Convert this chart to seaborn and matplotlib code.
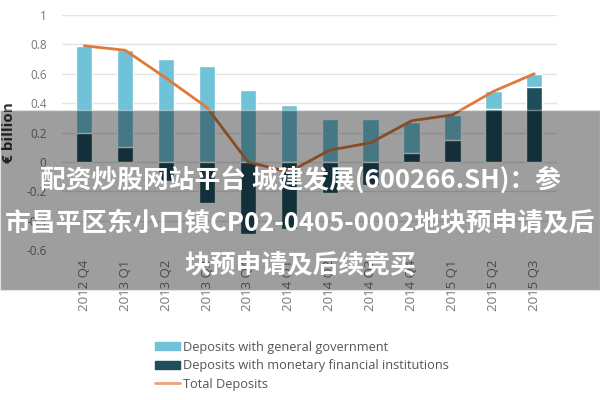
import numpy as np
import matplotlib
matplotlib.use("Agg")
import matplotlib.pyplot as plt
import seaborn as sns
from matplotlib.patches import Patch, Rectangle
from matplotlib.lines import Line2D

quarters = ["2012 Q4", "2013 Q1", "2013 Q2", "2013 Q3", "2013 Q4", "2014 Q1",
            "2014 Q2", "2014 Q3", "2014 Q4", "2015 Q1", "2015 Q2", "2015 Q3"]
gov = [0.59, 0.66, 0.70, 0.65, 0.49, 0.39, 0.29, 0.29, 0.21, 0.17, 0.12, 0.09]
mfi = [0.20, 0.10, -0.13, -0.28, -0.49, -0.46, -0.21, -0.16, 0.06, 0.15, 0.36, 0.51]
total = [0.79, 0.76, 0.57, 0.37, 0.00, -0.07, 0.08, 0.13, 0.28, 0.32, 0.48, 0.60]

overlay_lines = ["配资炒股网站平台 城建发展(600266.SH)：参",
                 "市昌平区东小口镇CP02-0405-0002地块预申请及后",
                 "块预申请及后续竞买"]

light = "#6fc2d8"
dark = "#1f4d5c"
orange = "#de7a3c"

sns.set_style("white")
plt.rcParams["font.family"] = ["Open Sans", "DejaVu Sans"]

fig = plt.figure(figsize=(6, 4), dpi=100)
ax = fig.add_axes([0.103, 0.375, 0.825, 0.5875])

# light bar sits on top of the positive dark part
light_top = [g + max(m, 0) for g, m in zip(gov, mfi)]
sns.barplot(x=quarters, y=light_top, color=light, saturation=1, width=0.4, ax=ax)
sns.barplot(x=quarters, y=mfi, color=dark, saturation=1, width=0.4, ax=ax)
ax.plot(np.arange(len(quarters)), total, color=orange, lw=2, zorder=5)

ax.set_ylim(-0.6, 1.0)
ax.set_xlim(-0.55, 11.55)
yt = np.round(np.arange(-0.6, 1.01, 0.2), 1)
ax.set_yticks(yt)
ax.set_yticklabels([f"{v:g}" for v in yt], fontsize=8.5, color="#777777")
ax.yaxis.grid(True, color="#e4e4e4", lw=1)
ax.set_axisbelow(True)
for s in ax.spines.values():
    s.set_visible(False)
ax.tick_params(axis="x", rotation=90, labelsize=9.5, labelcolor="#777777", length=0, pad=7)
ax.tick_params(axis="y", length=0, pad=11)
ax.set_xlabel("")
ax.set_ylabel("€ billion", fontsize=11, fontweight="bold", color="#333333")
ax.yaxis.set_label_coords(-0.092, 0.5)

handles = [Patch(color=light, label="Deposits with general government"),
           Patch(color=dark, label="Deposits with monetary financial institutions"),
           Line2D([0], [0], color="#f0a080", lw=2, label="Total Deposits")]
fig.legend(handles=handles, loc="upper left", bbox_to_anchor=(0.258, 0.148),
           frameon=False, fontsize=9.2, handlelength=2.0, handleheight=0.6,
           handletextpad=0.2, labelspacing=0.42, labelcolor="#555555",
           borderaxespad=0, borderpad=0)

# grey banner with caption text
fig.patches.append(Rectangle((0, 0.275), 1, 0.45, transform=fig.transFigure,
                             facecolor="black", alpha=0.38, zorder=10))
cjk = ["Noto Sans CJK SC", "DejaVu Sans"]
for y, line in zip([0.55, 0.44, 0.337], overlay_lines):
    fig.text(0.5, y, line, ha="center", va="center", color="white",
             fontsize=18.5, fontweight="bold", family=cjk, zorder=11)

fig.savefig("out.png", dpi=100)
